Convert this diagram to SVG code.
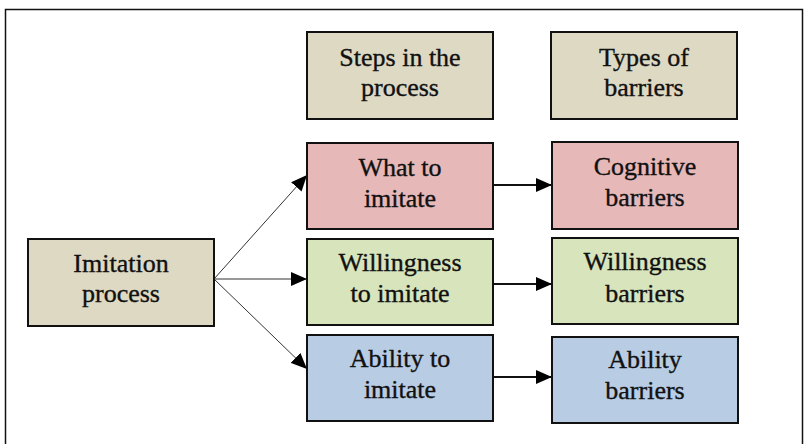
<svg xmlns="http://www.w3.org/2000/svg" width="808" height="444" viewBox="0 0 808 444">
  <style>
    .box { stroke: #111; stroke-width: 2; }
    .tan { fill: #DDD9C3; }
    .pink { fill: #E6B8B7; }
    .green { fill: #D7E4BC; }
    .blue { fill: #B8CCE4; }
    text { font-family: "Liberation Serif", "Times New Roman", serif; font-size: 26px; fill: #111; stroke: #111; stroke-width: 0.35; text-anchor: middle; }
    .thin { stroke: #333; stroke-width: 1; fill: none; }
    .thick { stroke: #111; stroke-width: 2; fill: none; }
  </style>
  <defs>
    <marker id="arrow" markerUnits="userSpaceOnUse" markerWidth="16" markerHeight="14" refX="16" refY="7" orient="auto">
      <path d="M0,0 L16,7 L0,14 z" fill="#000"/>
    </marker>
  </defs>

  <!-- outer frame -->
  <rect x="5.5" y="9.5" width="797" height="450" fill="#fff" stroke="#111" stroke-width="1.5"/>

  <g id="connectors">
    <line class="thin" x1="214" y1="279" x2="307" y2="175" marker-end="url(#arrow)"/>
    <line class="thin" x1="214" y1="279" x2="307" y2="279" marker-end="url(#arrow)"/>
    <line class="thin" x1="214" y1="279" x2="307" y2="369" marker-end="url(#arrow)"/>
    <line class="thick" x1="493" y1="185" x2="552" y2="185" marker-end="url(#arrow)"/>
    <line class="thick" x1="493" y1="284" x2="552" y2="284" marker-end="url(#arrow)"/>
    <line class="thick" x1="493" y1="377" x2="552" y2="377" marker-end="url(#arrow)"/>
  </g>

  <g id="steps-header">
    <rect class="box tan" x="307" y="32" width="186" height="87"/>
    <text x="400" y="66">Steps in the</text>
    <text x="400" y="96">process</text>
  </g>

  <g id="barriers-header">
    <rect class="box tan" x="551" y="32" width="186" height="87"/>
    <text x="644" y="66">Types of</text>
    <text x="644" y="96">barriers</text>
  </g>

  <g id="imitation-process">
    <rect class="box tan" x="28" y="239" width="186" height="87"/>
    <text x="121" y="272">Imitation</text>
    <text x="121" y="302">process</text>
  </g>

  <g id="what-to-imitate">
    <rect class="box pink" x="307" y="143" width="186" height="86"/>
    <text x="400" y="176">What to</text>
    <text x="400" y="207">imitate</text>
  </g>

  <g id="willingness-to-imitate">
    <rect class="box green" x="307" y="239" width="186" height="86"/>
    <text x="400" y="271">Willingness</text>
    <text x="400" y="302">to imitate</text>
  </g>

  <g id="ability-to-imitate">
    <rect class="box blue" x="307" y="335" width="186" height="86"/>
    <text x="400" y="367">Ability to</text>
    <text x="400" y="398">imitate</text>
  </g>

  <g id="cognitive-barriers">
    <rect class="box pink" x="552" y="142" width="186" height="87"/>
    <text x="645" y="175">Cognitive</text>
    <text x="645" y="206">barriers</text>
  </g>

  <g id="willingness-barriers">
    <rect class="box green" x="552" y="238" width="186" height="86"/>
    <text x="645" y="270">Willingness</text>
    <text x="645" y="302">barriers</text>
  </g>

  <g id="ability-barriers">
    <rect class="box blue" x="552" y="337" width="186" height="86"/>
    <text x="645" y="368">Ability</text>
    <text x="645" y="399">barriers</text>
  </g>
</svg>
